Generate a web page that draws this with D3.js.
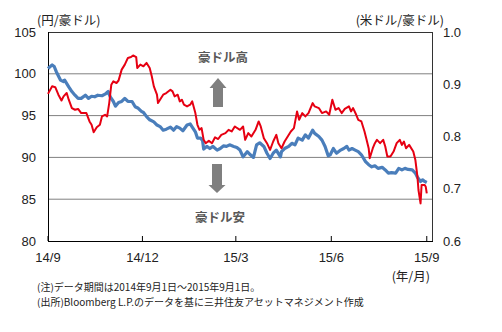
<!DOCTYPE html>
<html><head><meta charset="utf-8">
<script src="https://cdn.jsdelivr.net/npm/d3@7"></script>
<style>
body{margin:0;background:#fff;}
svg{display:block;}
.num{font-family:"Liberation Sans",Arial,sans-serif;font-size:13px;fill:#222;}
.jp{font-family:"Noto Sans CJK JP",sans-serif;fill:#222;}
</style></head>
<body><svg id="c" width="502" height="332"></svg>
<script>
const redDates = ["2014-09-01","2014-09-05","2014-09-08","2014-09-11","2014-09-14","2014-09-16","2014-09-19","2014-09-21","2014-09-24","2014-09-27","2014-09-30","2014-10-03","2014-10-08","2014-10-11","2014-10-13","2014-10-15","2014-10-18","2014-10-21","2014-10-23","2014-10-26","2014-10-28","2014-10-30","2014-11-01","2014-11-03","2014-11-06","2014-11-08","2014-11-11","2014-11-14","2014-11-17","2014-11-20","2014-11-22","2014-11-25","2014-11-26","2014-11-29","2014-12-02","2014-12-05","2014-12-08","2014-12-10","2014-12-12","2014-12-15","2014-12-16","2014-12-19","2014-12-21","2014-12-24","2014-12-28","2014-12-30","2015-01-01","2015-01-04","2015-01-06","2015-01-08","2015-01-10","2015-01-13","2015-01-16","2015-01-18","2015-01-21","2015-01-23","2015-01-25","2015-01-27","2015-01-29","2015-01-31","2015-02-03","2015-02-06","2015-02-09","2015-02-12","2015-02-15","2015-02-19","2015-02-22","2015-02-25","2015-02-28","2015-03-05","2015-03-08","2015-03-10","2015-03-13","2015-03-16","2015-03-20","2015-03-23","2015-03-25","2015-03-28","2015-03-31","2015-04-03","2015-04-06","2015-04-09","2015-04-11","2015-04-14","2015-04-17","2015-04-20","2015-04-23","2015-04-26","2015-04-29","2015-05-01","2015-05-04","2015-05-07","2015-05-10","2015-05-14","2015-05-16","2015-05-20","2015-05-23","2015-05-27","2015-05-30","2015-06-02","2015-06-05","2015-06-08","2015-06-11","2015-06-14","2015-06-18","2015-06-20","2015-06-22","2015-06-25","2015-06-27","2015-06-30","2015-07-03","2015-07-05","2015-07-07","2015-07-08","2015-07-11","2015-07-13","2015-07-15","2015-07-18","2015-07-21","2015-07-23","2015-07-25","2015-07-28","2015-07-31","2015-08-03","2015-08-06","2015-08-08","2015-08-10","2015-08-12","2015-08-15","2015-08-19","2015-08-21","2015-08-23","2015-08-24","2015-08-26","2015-08-27","2015-08-30","2015-08-31","2015-09-01"];
const redValues = [97.6,98.5,98.4,97.5,96.8,97.3,97.7,96.9,95.9,95.7,95.8,95.3,95.3,94.3,93.9,93.0,93.6,93.9,94.9,95.1,94.9,96.5,98.7,99.1,98.9,99.2,100.5,101.1,101.9,102.0,102.2,102.0,100.7,101.1,100.9,101.3,100.7,99.7,98.5,97.5,96.5,97.1,97.5,97.7,98.1,97.9,97.3,97.5,96.7,96.9,96.3,96.1,96.3,96.7,95.3,93.9,93.3,93.5,92.1,91.7,92.0,91.7,92.4,92.2,92.7,92.9,93.3,93.1,93.7,93.3,93.7,92.1,92.9,92.5,93.3,94.3,93.7,92.3,91.7,90.9,91.9,92.7,91.7,91.1,91.9,92.5,93.1,93.5,95.5,94.5,95.3,94.9,95.3,96.5,96.1,95.9,95.3,95.5,95.1,96.9,95.7,95.9,95.3,95.8,96.1,95.5,95.9,95.1,94.5,94.3,93.1,92.1,91.1,89.9,91.1,91.7,92.1,91.7,92.1,91.3,90.1,90.1,90.7,91.7,92.1,91.5,91.9,91.1,91.5,90.7,89.7,87.7,86.1,84.5,86.7,86.7,86.5,85.7];
const blueDates = ["2014-09-01","2014-09-05","2014-09-07","2014-09-09","2014-09-13","2014-09-16","2014-09-17","2014-09-21","2014-09-24","2014-09-27","2014-09-30","2014-10-03","2014-10-07","2014-10-10","2014-10-13","2014-10-16","2014-10-19","2014-10-23","2014-10-26","2014-10-29","2014-10-31","2014-11-03","2014-11-05","2014-11-08","2014-11-11","2014-11-14","2014-11-17","2014-11-21","2014-11-24","2014-11-27","2014-11-30","2014-12-02","2014-12-05","2014-12-08","2014-12-12","2014-12-15","2014-12-18","2014-12-21","2014-12-24","2014-12-28","2014-12-31","2015-01-03","2015-01-06","2015-01-09","2015-01-13","2015-01-16","2015-01-18","2015-01-21","2015-01-23","2015-01-26","2015-01-28","2015-01-29","2015-02-01","2015-02-04","2015-02-07","2015-02-11","2015-02-14","2015-02-17","2015-02-20","2015-02-23","2015-02-27","2015-03-02","2015-03-05","2015-03-08","2015-03-12","2015-03-15","2015-03-18","2015-03-21","2015-03-24","2015-03-28","2015-03-31","2015-04-03","2015-04-06","2015-04-09","2015-04-13","2015-04-14","2015-04-17","2015-04-21","2015-04-24","2015-04-27","2015-04-30","2015-05-04","2015-05-07","2015-05-10","2015-05-14","2015-05-16","2015-05-20","2015-05-23","2015-05-26","2015-05-29","2015-05-31","2015-06-03","2015-06-06","2015-06-10","2015-06-13","2015-06-16","2015-06-18","2015-06-21","2015-06-24","2015-06-27","2015-06-30","2015-07-04","2015-07-07","2015-07-10","2015-07-13","2015-07-16","2015-07-20","2015-07-23","2015-07-26","2015-07-29","2015-08-02","2015-08-05","2015-08-08","2015-08-11","2015-08-14","2015-08-18","2015-08-21","2015-08-23","2015-08-26","2015-08-28","2015-08-30","2015-09-01"];
const blueValues = [0.930,0.937,0.934,0.924,0.908,0.905,0.908,0.895,0.886,0.879,0.873,0.873,0.879,0.873,0.877,0.876,0.879,0.878,0.881,0.886,0.876,0.867,0.858,0.865,0.867,0.873,0.867,0.867,0.857,0.854,0.848,0.846,0.838,0.832,0.828,0.822,0.819,0.812,0.814,0.818,0.812,0.819,0.816,0.811,0.822,0.824,0.818,0.809,0.797,0.797,0.792,0.776,0.781,0.777,0.781,0.774,0.777,0.782,0.781,0.784,0.781,0.779,0.774,0.761,0.771,0.765,0.760,0.784,0.788,0.781,0.768,0.758,0.768,0.774,0.761,0.771,0.777,0.781,0.787,0.784,0.797,0.793,0.803,0.797,0.812,0.806,0.800,0.793,0.781,0.763,0.765,0.777,0.768,0.774,0.777,0.781,0.774,0.777,0.774,0.771,0.765,0.752,0.746,0.742,0.744,0.739,0.741,0.736,0.730,0.731,0.730,0.739,0.736,0.739,0.737,0.736,0.730,0.722,0.714,0.717,0.714,0.712];
const leftTicks = [80,85,90,95,100,105];
const rightTicks = [0.6,0.7,0.8,0.9,1.0];
const xTickDates = ["2014-09-01","2014-12-01","2015-03-01","2015-06-01","2015-09-01"];
const xTickLabels = ["14/9","14/12","15/3","15/6","15/9"];

const parse = d3.timeParse("%Y-%m-%d");
const svg = d3.select("#c");
const L=48, T=32, R=433, B=241;
const x = d3.scaleTime().domain([parse("2014-09-01"), parse("2015-09-07")]).range([L,R]);
const yL = d3.scaleLinear().domain([80,105]).range([B,T]);
const yR = d3.scaleLinear().domain([0.6,1.0]).range([B,T]);

// gridlines
svg.append("g").selectAll("line").data(leftTicks.filter(v=>v>80&&v<105)).join("line")
  .attr("x1",L).attr("x2",R).attr("y1",d=>yL(d)).attr("y2",d=>yL(d))
  .attr("stroke","#808080").attr("stroke-width",1);

// left labels
svg.append("g").selectAll("text").data(leftTicks).join("text").attr("class","num")
  .attr("x",36).attr("y",d=>yL(d)).attr("dy","0.35em").attr("text-anchor","end").text(d=>d);
// right labels
svg.append("g").selectAll("text").data(rightTicks).join("text").attr("class","num")
  .attr("x",443).attr("y",d=>yR(d)).attr("dy","0.35em").text(d=>d.toFixed(1));

// x axis ticks (inside) + labels
const xt = xTickDates.map(parse);
svg.append("g").selectAll("line").data(xt).join("line")
  .attr("x1",d=>x(d)).attr("x2",d=>x(d)).attr("y1",B).attr("y2",B-5)
  .attr("stroke","#000");
svg.append("g").selectAll("text").data(xt).join("text").attr("class","num")
  .attr("x",d=>x(d)).attr("y",262).attr("text-anchor","middle").text((d,i)=>xTickLabels[i]);

// frame
svg.append("rect").attr("x",L+0.5).attr("y",T+0.5).attr("width",R-L-1).attr("height",B-T)
  .attr("fill","none").attr("stroke","#333").attr("stroke-width",1);
svg.append("line").attr("x1",L+0.5).attr("x2",L+0.5).attr("y1",T).attr("y2",B+1).attr("stroke","#000");
svg.append("line").attr("x1",L).attr("x2",R).attr("y1",B+0.5).attr("y2",B+0.5).attr("stroke","#000");

// arrows
function arrow(cx, tipY, headY, endY){
  const hw=8.5, sw=5;
  const p = [[cx,tipY],[cx+hw,headY],[cx+sw,headY],[cx+sw,endY],[cx-sw,endY],[cx-sw,headY],[cx-hw,headY]];
  svg.append("path").attr("d",d3.line()(p)+"Z").attr("fill","#7f7f7f");
}
arrow(218,78,88,107);
arrow(217,193,185,164);

// annotations
svg.append("text").attr("class","jp").attr("x",223).attr("y",62).attr("text-anchor","middle")
  .attr("font-size",12.5).attr("font-weight","bold").style("fill","#595959").text("豪ドル高");
svg.append("text").attr("class","jp").attr("x",220).attr("y",222).attr("text-anchor","middle")
  .attr("font-size",12.5).attr("font-weight","bold").style("fill","#595959").text("豪ドル安");

// lines
const blueData = blueDates.map((d,i)=>({d:parse(d),v:blueValues[i]}));
const redData = redDates.map((d,i)=>({d:parse(d),v:redValues[i]}));
svg.append("path").datum(blueData)
  .attr("d",d3.line().x(d=>x(d.d)).y(d=>yR(d.v)))
  .attr("fill","none").attr("stroke","#4a7ebb").attr("stroke-width",3.2).attr("stroke-linejoin","round");
svg.append("path").datum(redData)
  .attr("d",d3.line().x(d=>x(d.d)).y(d=>yL(d.v)))
  .attr("fill","none").attr("stroke","#e60012").attr("stroke-width",2).attr("stroke-linejoin","round");

// titles
svg.append("text").attr("class","jp").attr("x",37).attr("y",25).attr("font-size",12.5).text("(円/豪ドル)");
svg.append("text").attr("class","jp").attr("x",444).attr("y",25).attr("text-anchor","end").attr("font-size",12.5).text("(米ドル/豪ドル)");
svg.append("text").attr("class","jp").attr("x",430).attr("y",281).attr("text-anchor","end").attr("font-size",12.5).text("(年/月)");
svg.append("text").attr("class","jp").attr("x",37).attr("y",290.5).attr("font-size",10).text("(注)データ期間は2014年9月1日～2015年9月1日。");
svg.append("text").attr("class","jp").attr("x",37).attr("y",305.5).attr("font-size",10).text("(出所)Bloomberg L.P.のデータを基に三井住友アセットマネジメント作成");
</script></body></html>
